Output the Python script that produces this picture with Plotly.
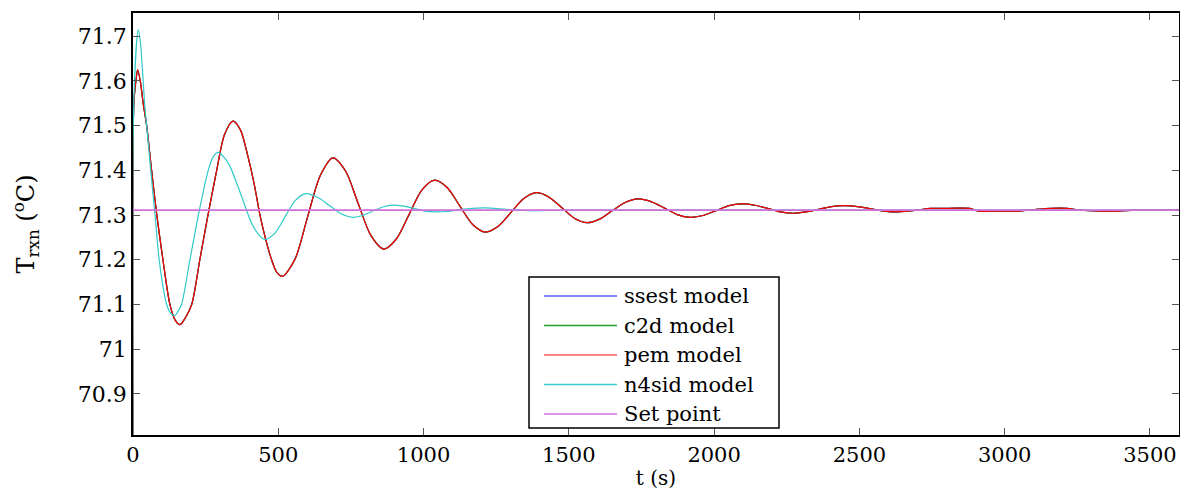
import plotly.graph_objects as go

# ---- data ----
t_main = [0, 3, 10, 16, 25, 35, 47, 64, 82, 103, 127, 145, 162, 180, 202, 230, 258, 288, 315, 344,
          370, 396, 417, 437, 457, 477, 495, 515, 558, 601, 645, 688, 732, 775, 819, 863, 907, 950,
          994, 1038, 1082, 1125, 1169, 1213, 1257, 1301, 1345, 1389, 1432, 1475, 1519, 1562, 1606,
          1650, 1694, 1738, 1783, 1828, 1873, 1918, 1962, 2007, 2051, 2096, 2140, 2184, 2228, 2272,
          2316, 2360, 2404, 2448, 2494, 2540, 2585, 2631, 2700, 2745, 2810, 2880, 2910, 2980, 3050,
          3100, 3160, 3215, 3260, 3340, 3390, 3450, 3600]
pem_vals = [70.70, 71.55, 71.60, 71.625, 71.60, 71.55, 71.50, 71.40, 71.30, 71.20, 71.10, 71.065,
            71.055, 71.07, 71.10, 71.20, 71.30, 71.40, 71.48, 71.51, 71.49, 71.43, 71.37, 71.30,
            71.245, 71.20, 71.172, 71.163, 71.202, 71.296, 71.389, 71.428, 71.398, 71.326, 71.254,
            71.224, 71.247, 71.301, 71.356, 71.378, 71.361, 71.320, 71.279, 71.262, 71.275, 71.306,
            71.337, 71.350, 71.340, 71.317, 71.293, 71.283, 71.291, 71.310, 71.328, 71.336, 71.330,
            71.316, 71.301, 71.295, 71.299, 71.310, 71.321, 71.325, 71.322, 71.315, 71.307, 71.304,
            71.307, 71.313, 71.319, 71.321, 71.319, 71.314, 71.309, 71.307, 71.311, 71.315, 71.315,
            71.315, 71.309, 71.309, 71.309, 71.312, 71.315, 71.315, 71.311, 71.309, 71.309, 71.311,
            71.311]
ssest_vals = pem_vals
c2d_vals = pem_vals

t_n4sid = [0, 3, 18, 25, 33, 40, 47, 61, 76, 90, 116, 130, 144, 155, 167, 196, 225, 259, 276, 293,
           310, 333, 373, 414, 454, 489, 524, 559, 594, 635, 675, 716, 757, 791, 825, 860, 894, 930,
           967, 1003, 1040, 1082, 1125, 1167, 1210, 1285, 1360, 1500, 3600]
n4sid_vals = [70.70, 71.56, 71.715, 71.69, 71.62, 71.55, 71.50, 71.40, 71.30, 71.20, 71.10, 71.08,
              71.075, 71.085, 71.10, 71.20, 71.30, 71.40, 71.43, 71.44, 71.432, 71.41, 71.343,
              71.274, 71.245, 71.26, 71.297, 71.333, 71.348, 71.340, 71.322, 71.303, 71.295, 71.299,
              71.309, 71.318, 71.322, 71.320, 71.315, 71.309, 71.307, 71.308, 71.312, 71.315,
              71.316, 71.313, 71.310, 71.311, 71.311]

t_set = [0, 3600]
set_vals = [71.311, 71.311]

legend_names = ["ssest model", "c2d model", "pem model", "n4sid model", "Set point"]
colors = ["#2020ff", "#108a10", "#ff0000", "#30c8c8", "#d070d8"]
legend_colors = ["#5a5aff", "#2a9a2a", "#ff5a5a", "#40cccc", "#d070d8"]

x_ticks = [0, 500, 1000, 1500, 2000, 2500, 3000, 3500]
y_ticks = [70.9, 71.0, 71.1, 71.2, 71.3, 71.4, 71.5, 71.6, 71.7]
y_tick_text = ["70.9", "71", "71.1", "71.2", "71.3", "71.4", "71.5", "71.6", "71.7"]

FONT = "DejaVu Serif"

fig = go.Figure()
series = [(t_main, ssest_vals), (t_main, c2d_vals), (t_main, pem_vals), (t_n4sid, n4sid_vals), (t_set, set_vals)]
widths = [1.2, 1.2, 1.2, 1.2, 1.8]
for (tx, vy), name, col, w in zip(series, legend_names, colors, widths):
    fig.add_trace(go.Scatter(x=tx, y=vy, mode="lines", name=name,
                             line=dict(color=col, width=w, shape="spline", smoothing=0.8),
                             showlegend=False))

# plot area in page pixels; the page body adds an 8 px offset
OFF = 8
W, H = 1188 - OFF, 491 - OFF
L, R, T, B = 133, 1179, 13, 435
def px(x):
    return (x - L) / (R - L)
def py(y):
    return (B - y) / (B - T)

fig.add_shape(type="rect", xref="paper", yref="paper", x0=px(529), x1=px(779), y0=py(428), y1=py(277),
              line=dict(color="black", width=1.5), fillcolor="white", layer="above")
rows = [296, 325.5, 355, 384.5, 414]
for name, col, yy in zip(legend_names, legend_colors, rows):
    fig.add_shape(type="line", xref="paper", yref="paper", x0=px(544), x1=px(617), y0=py(yy), y1=py(yy),
                  line=dict(color=col, width=1.5), layer="above")
    fig.add_annotation(xref="paper", yref="paper", x=px(622), y=py(yy), text=name, showarrow=False,
                       xanchor="left", yanchor="middle", font=dict(family=FONT, size=21, color="black"))

fig.update_layout(
    width=W, height=H,
    margin=dict(l=L - OFF, r=W - (R - OFF), t=T - OFF, b=H - (B - OFF)),
    paper_bgcolor="white", plot_bgcolor="white",
    font=dict(family=FONT, size=21, color="black"),
    xaxis=dict(range=[0, 3600], tickvals=x_ticks, ticks="inside", ticklen=7, tickcolor="#555",
               showline=True, linecolor="black", linewidth=1.5, mirror="ticks", showgrid=False,
               zeroline=False, tickfont=dict(family=FONT, size=21), automargin=False,
               title=dict(text="t (s)", font=dict(family=FONT, size=20), standoff=5)),
    yaxis=dict(range=[70.808, 71.752], tickvals=y_ticks, ticktext=y_tick_text, ticks="inside", ticklen=7,
               tickcolor="#555", showline=True, linecolor="black", linewidth=1.5, mirror="ticks",
               showgrid=False, zeroline=False, tickfont=dict(family=FONT, size=22), automargin=False,
               title=dict(text="T<sub>rxn</sub> (<sup>o</sup>C)", font=dict(family=FONT, size=24), standoff=36)),
)

fig.write_html("out.html")
